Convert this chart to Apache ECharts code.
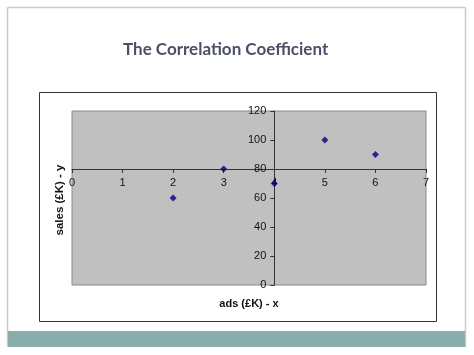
<!DOCTYPE html>
<html>
<head>
<meta charset="utf-8">
<script src="https://cdn.jsdelivr.net/npm/echarts@6/dist/echarts.min.js"></script>
<style>html,body{margin:0;padding:0;background:#fff;}#c{width:474px;height:355px;}</style>
</head>
<body>
<div id="c"></div>
<script>
const adsX = [2, 3, 4, 5, 6];
const salesY = [60, 80, 70, 100, 90];
const xTicks = [0, 1, 2, 3, 4, 5, 6, 7];
const yTicks = [0, 20, 40, 60, 80, 100, 120];
const crossX = 4;   // y-axis drawn at x = 4
const crossY = 80;  // x-axis drawn at y = 80

const G = {left: 72, top: 111, width: 354, height: 174};
const xMin = xTicks[0], xMax = xTicks[xTicks.length - 1];
const yMin = yTicks[0], yMax = yTicks[yTicks.length - 1];
const xOffset = -G.height * (crossY - yMin) / (yMax - yMin);
const yOffset = -G.width * (crossX - xMin) / (xMax - xMin);

const font = 'Liberation Sans, Arial, sans-serif';
const chart = echarts.init(document.getElementById('c'));
chart.setOption({
  animation: false,
  backgroundColor: '#ffffff',
  title: {
    text: 'The Correlation Coefficient',
    left: 118, top: 36,
    textStyle: {fontFamily: 'Lato, Open Sans, sans-serif', fontWeight: 'bold', fontSize: 17, color: '#4b5067'}
  },
  graphic: [
    {type: 'line', shape: {x1: 7.5, y1: 7.5, x2: 465.5, y2: 7.5}, style: {stroke: '#c8cccc', lineWidth: 1.5}, z: -10},
    {type: 'line', shape: {x1: 7.5, y1: 7.5, x2: 7.5, y2: 347}, style: {stroke: '#c8cccc', lineWidth: 1.5}, z: -10},
    {type: 'line', shape: {x1: 465.5, y1: 7.5, x2: 465.5, y2: 347}, style: {stroke: '#c8cccc', lineWidth: 1.5}, z: -10},
    {type: 'rect', shape: {x: 8, y: 331, width: 457, height: 16}, style: {fill: '#89adad'}, z: -10},
    {type: 'rect', shape: {x: 39.5, y: 92.5, width: 397, height: 229}, style: {fill: 'none', stroke: '#333333', lineWidth: 1}, z: -5},
    {type: 'text', x: 249, y: 304, style: {text: 'ads (£K) - x', x: 0, y: 0, textAlign: 'center', textVerticalAlign: 'middle', font: 'bold 11px ' + font, fill: '#111'}},
    {type: 'text', rotation: Math.PI / 2, x: 60, y: 200, style: {text: 'sales (£K) - y', x: 0, y: 0, textAlign: 'center', textVerticalAlign: 'middle', font: 'bold 11.5px ' + font, fill: '#111'}}
  ],
  grid: {left: G.left, top: G.top, width: G.width, height: G.height, show: true, backgroundColor: '#c0c0c0', borderColor: '#8a8a8a', borderWidth: 1},
  xAxis: {
    type: 'value', min: xMin, max: xMax, interval: 1, position: 'bottom', offset: xOffset,
    axisLine: {show: true, onZero: false, lineStyle: {color: '#333', width: 1}},
    axisTick: {show: true, length: 4, lineStyle: {color: '#333'}},
    axisLabel: {fontFamily: font, fontSize: 11, color: '#111', margin: 8},
    splitLine: {show: false}
  },
  yAxis: {
    type: 'value', min: yMin, max: yMax, interval: 20, position: 'left', offset: yOffset,
    axisLine: {show: true, onZero: false, lineStyle: {color: '#333', width: 1}},
    axisTick: {show: true, length: 4, lineStyle: {color: '#333'}},
    axisLabel: {fontFamily: font, fontSize: 11, color: '#111', margin: 8},
    splitLine: {show: false}
  },
  series: [{
    type: 'scatter',
    symbol: 'diamond', symbolSize: 7,
    itemStyle: {color: '#000080'},
    data: adsX.map((x, i) => [x, salesY[i]])
  }]
});
</script>
</body>
</html>
